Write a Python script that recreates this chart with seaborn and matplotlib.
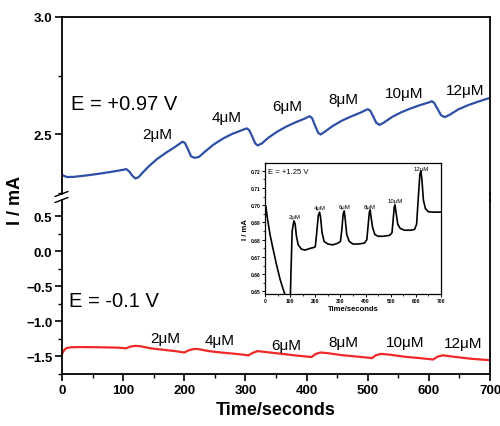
import matplotlib
matplotlib.use("Agg")
import matplotlib.pyplot as plt
from matplotlib.lines import Line2D
from matplotlib.ticker import MultipleLocator, FormatStrFormatter
import seaborn as sns

# ---------------- data ----------------
t_blue = [0, 8, 20, 40, 60, 80, 100, 105, 110, 115, 120, 125, 132, 142, 155, 170, 185, 197,
          201, 206, 211, 217, 224, 234, 248, 263, 278, 293, 302, 306, 311, 316, 320, 327, 338,
          352, 367, 382, 397, 405, 409, 414, 419, 423, 430, 442, 457, 472, 487, 500, 504, 509,
          514, 519, 526, 540, 555, 570, 585, 600, 605, 609, 614, 620, 626, 634, 648, 663, 678,
          692, 700]
i_blue = [2.325, 2.316, 2.317, 2.323, 2.330, 2.338, 2.347, 2.350, 2.340, 2.322, 2.310, 2.315,
          2.335, 2.362, 2.392, 2.420, 2.445, 2.467, 2.462, 2.435, 2.405, 2.398, 2.402, 2.425,
          2.455, 2.480, 2.500, 2.515, 2.524, 2.517, 2.490, 2.460, 2.451, 2.460, 2.485, 2.510,
          2.532, 2.550, 2.566, 2.576, 2.568, 2.535, 2.505, 2.498, 2.510, 2.533, 2.556, 2.574,
          2.590, 2.606, 2.600, 2.575, 2.548, 2.539, 2.548, 2.573, 2.593, 2.609, 2.623, 2.635,
          2.640, 2.632, 2.608, 2.580, 2.572, 2.582, 2.605, 2.622, 2.636, 2.648, 2.654]

t_red = [0, 4, 8, 15, 30, 60, 90, 105, 112, 120, 128, 145, 165, 185, 200, 207, 215, 222, 240,
         260, 285, 305, 312, 320, 330, 350, 380, 408, 415, 423, 435, 460, 485, 507, 513, 522,
         535, 560, 585, 607, 614, 623, 640, 670, 700]
i_red = [-1.47, -1.41, -1.385, -1.375, -1.372, -1.375, -1.38, -1.39, -1.365, -1.355, -1.36,
         -1.39, -1.41, -1.43, -1.45, -1.42, -1.40, -1.40, -1.43, -1.45, -1.47, -1.49, -1.455,
         -1.43, -1.44, -1.46, -1.49, -1.515, -1.47, -1.45, -1.46, -1.49, -1.51, -1.53, -1.49,
         -1.47, -1.48, -1.51, -1.53, -1.55, -1.51, -1.49, -1.51, -1.54, -1.56]

t_ins = [0, 3, 10, 20, 30, 45, 60, 75, 85, 95, 100, 103, 108, 115, 120, 125, 132, 145, 160, 180,
         195, 200, 205, 212, 217, 221, 227, 235, 250, 270, 290, 300, 305, 311, 315, 319, 325,
         335, 350, 370, 395, 405, 410, 415, 418, 422, 428, 437, 450, 470, 495, 505, 510, 514,
         517, 521, 528, 538, 555, 580, 595, 603, 610, 616, 620, 624, 630, 638, 650, 670, 700]
i_ins = [0.690, 0.6998, 0.692, 0.683, 0.676, 0.666, 0.657, 0.650, 0.646, 0.640, 0.640, 0.660,
         0.685, 0.691, 0.689, 0.682, 0.677, 0.6745, 0.674, 0.675, 0.6755, 0.676, 0.683, 0.694,
         0.696, 0.693, 0.684, 0.679, 0.6775, 0.677, 0.678, 0.679, 0.685, 0.695, 0.6967, 0.692,
         0.683, 0.679, 0.6775, 0.6775, 0.678, 0.680, 0.688, 0.696, 0.6973, 0.693, 0.687, 0.683,
         0.682, 0.682, 0.6825, 0.684, 0.692, 0.699, 0.7002, 0.696, 0.689, 0.6865, 0.6855, 0.6855,
         0.686, 0.689, 0.705, 0.718, 0.7198, 0.715, 0.703, 0.698, 0.6962, 0.696, 0.696]

conc_labels = ["2\u03bcM", "4\u03bcM", "6\u03bcM", "8\u03bcM", "10\u03bcM", "12\u03bcM"]
top_lab_t = [155, 270, 368, 460, 559, 660]
top_lab_i = [2.50, 2.572, 2.618, 2.650, 2.675, 2.688]
bot_lab_t = [169, 257, 366, 461, 561, 656]
bot_lab_i = [-1.243, -1.271, -1.336, -1.293, -1.293, -1.314]
ins_lab_t = [117, 218, 315, 418, 517, 620]
ins_lab_i = [0.6935, 0.6985, 0.6990, 0.6995, 0.7025, 0.7215]

# ---------------- style ----------------
sns.set_style("ticks")
plt.rcParams['font.family'] = ['Liberation Sans', 'DejaVu Sans']
plt.rcParams['text.color'] = 'black'
plt.rcParams['axes.labelcolor'] = 'black'
plt.rcParams['xtick.color'] = 'black'
plt.rcParams['ytick.color'] = 'black'

W, H = 500, 427
fig = plt.figure(figsize=(5.0, 4.27), dpi=100)

def rect(l, t, r, b):
    return [l / W, 1 - b / H, (r - l) / W, (b - t) / H]

BLUE = "#2E4FA6"
RED = "#F02828"

ax_top = fig.add_axes(rect(62, 18, 490, 195))
ax_bot = fig.add_axes(rect(62, 201, 490, 375))

sns.lineplot(x=t_blue, y=i_blue, ax=ax_top, color=BLUE, lw=1.6, estimator=None, sort=False)
sns.lineplot(x=t_red, y=i_red, ax=ax_bot, color=RED, lw=1.6, estimator=None, sort=False)

ax_top.set_xlim(0, 700)
ax_bot.set_xlim(0, 700)
ax_top.set_ylim(2.2436, 3.0)
ax_bot.set_ylim(-1.757, 0.7286)

for ax in (ax_top, ax_bot):
    for s in ax.spines.values():
        s.set_linewidth(1.3)
        s.set_color("black")
    ax.tick_params(which='major', direction='out', length=5, width=1.2, labelsize=9.5, pad=2,
                   colors='black')
    ax.tick_params(which='minor', direction='out', length=3, width=1.0, colors='black')
    ax.set_xlabel("")
    ax.set_ylabel("")

ax_top.spines['bottom'].set_visible(False)
ax_bot.spines['top'].set_visible(False)
ax_top.tick_params(axis='x', which='both', bottom=False, labelbottom=False)
ax_top.yaxis.set_major_locator(MultipleLocator(0.5))
ax_top.yaxis.set_minor_locator(MultipleLocator(0.25))
ax_bot.yaxis.set_major_locator(MultipleLocator(0.5))
ax_bot.yaxis.set_minor_locator(MultipleLocator(0.25))
ax_bot.xaxis.set_major_locator(MultipleLocator(100))
ax_bot.xaxis.set_minor_locator(MultipleLocator(50))
for lab in ax_top.get_yticklabels() + ax_bot.get_yticklabels() + ax_bot.get_xticklabels():
    lab.set_fontweight('bold')

# continuous right spine across the gap, and the break marks on the left
fig.add_artist(Line2D([490 / W, 490 / W], [1 - 194 / H, 1 - 202 / H], color='black', lw=1.3))
fig.add_artist(Line2D([55 / W, 68 / W], [1 - 197.5 / H, 1 - 192.5 / H], color='black', lw=1.0))
fig.add_artist(Line2D([55 / W, 68 / W], [1 - 203.5 / H, 1 - 198.5 / H], color='black', lw=1.0))

# annotations
ax_top.text(15, 2.63, "E = +0.97 V", fontsize=14.5, ha='left', va='center')
ax_bot.text(12, -0.70, "E = -0.1 V", fontsize=14.5, ha='left', va='center')
for lab, x, y in zip(conc_labels, top_lab_t, top_lab_i):
    ax_top.text(x, y, lab, fontsize=11, ha='center', va='center')
for lab, x, y in zip(conc_labels, bot_lab_t, bot_lab_i):
    ax_bot.text(x, y, lab, fontsize=11, ha='center', va='center')

fig.text(16 / W, 1 - 200 / H, "I / mA", rotation=90, fontsize=13, fontweight='bold',
         ha='center', va='center')
fig.text(276 / W, 1 - 411 / H, "Time/seconds", fontsize=13, fontweight='bold',
         ha='center', va='center')

# ---------------- inset ----------------
ax_in = fig.add_axes(rect(265, 164, 441, 295))
sns.lineplot(x=t_ins, y=i_ins, ax=ax_in, color='black', lw=1.2, estimator=None, sort=False)
ax_in.set_xlim(0, 700)
ax_in.set_ylim(0.6485, 0.7245)
ax_in.xaxis.set_major_locator(MultipleLocator(100))
ax_in.xaxis.set_minor_locator(MultipleLocator(50))
ax_in.yaxis.set_major_locator(MultipleLocator(0.01))
ax_in.yaxis.set_minor_locator(MultipleLocator(0.005))
ax_in.yaxis.set_major_formatter(FormatStrFormatter('%.2f'))
for s in ax_in.spines.values():
    s.set_linewidth(0.9)
    s.set_color('black')
ax_in.tick_params(which='major', direction='out', length=2, width=0.7, labelsize=3.6, pad=1,
                  colors='black')
ax_in.tick_params(which='minor', direction='out', length=1.2, width=0.6, colors='black')
for lab in ax_in.get_xticklabels() + ax_in.get_yticklabels():
    lab.set_fontweight('bold')
ax_in.set_xlabel("Time/seconds", fontsize=5.5, fontweight='bold', labelpad=1.5)
ax_in.set_ylabel("I / mA", fontsize=5.5, fontweight='bold', labelpad=1.5)
ax_in.text(10, 0.7195, "E = +1.25 V", fontsize=5.5, ha='left', va='center')
for lab, x, y in zip(conc_labels, ins_lab_t, ins_lab_i):
    ax_in.text(x, y, lab, fontsize=4.3, ha='center', va='center')

fig.savefig("out.png", dpi=100)
